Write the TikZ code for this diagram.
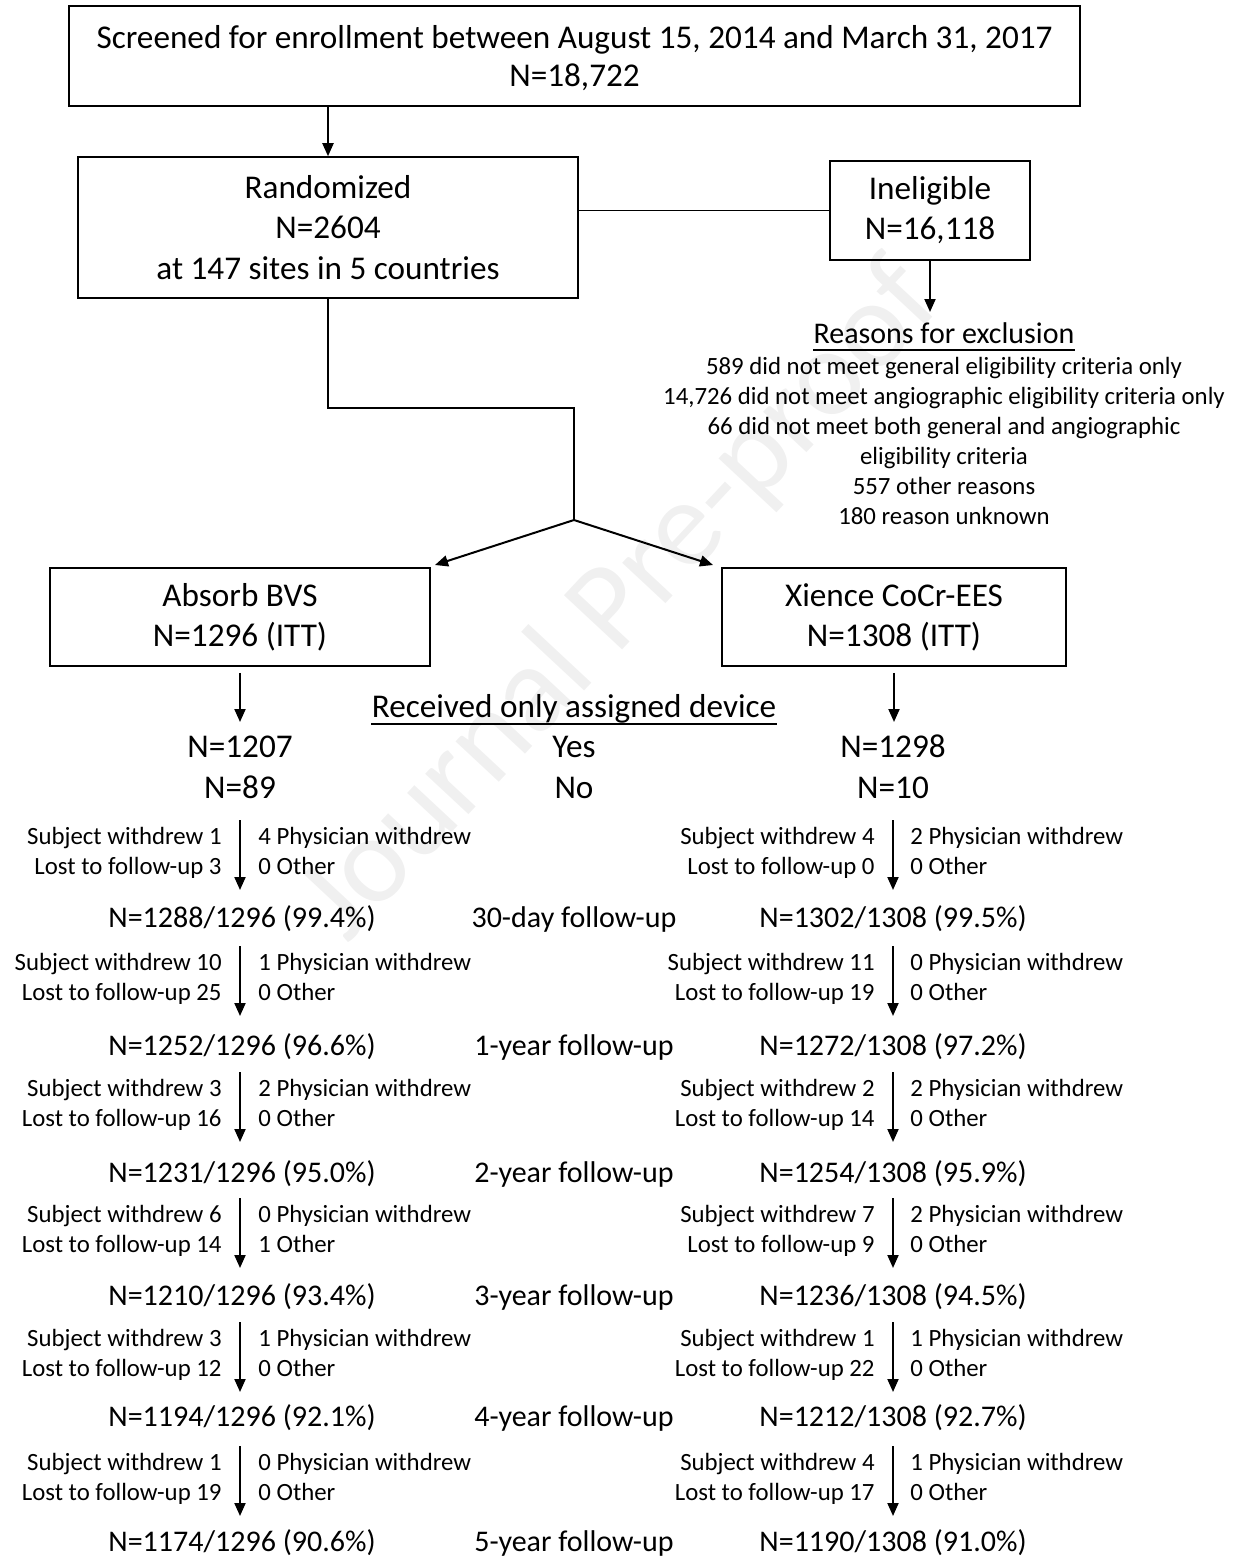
\documentclass[tikz,border=0pt]{standalone}
\usepackage{fontspec}
\setmainfont{Carlito}
\usetikzlibrary{arrows.meta}
\newcommand\fbig{\fontsize{16.6}{20}\selectfont}
\newcommand\fbigtop{\fontsize{16.6}{19}\selectfont}
\newcommand\fbigr{\fontsize{16.6}{20.25}\selectfont}
\newcommand\fres{\fontsize{15}{18}\selectfont}
\newcommand\fsmall{\fontsize{12.4}{15}\selectfont}
\begin{document}
\begin{tikzpicture}[x=0.5pt,y=-0.5pt,
  box/.style={draw,line width=0.75pt,align=center,font=\fbig,inner sep=0pt},
  arr/.style={line width=1pt,-{Triangle[length=6.5pt,width=5.5pt]}},
  conn/.style={line width=0.75pt},
  txt/.style={inner sep=0pt},
  big/.style={txt,font=\fbig,anchor=base},
  res/.style={txt,font=\fres,anchor=base},
  sml/.style={txt,font=\fsmall},
]
\useasboundingbox (0,0) rectangle (1232,1557);
% watermark
\node[txt,rotate=47,font=\fontsize{62}{62}\selectfont,text=black!6] (wm) at (622,602) {Journal Pre-proof};
% boxes
\node[box,font=\fbigtop,minimum width=505.5pt,minimum height=50pt,text depth=0pt] (top) at (574.5,56)
  {Screened for enrollment between August 15, 2014 and March 31, 2017\\N=18,722};
\node[box,font=\fbigr,minimum width=250pt,minimum height=70.5pt] (rand) at (328,227.5)
  {Randomized\\N=2604\\at 147 sites in 5 countries};
\node[box,minimum width=100pt,minimum height=49.5pt] (inel) at (930,210.5)
  {Ineligible\\N=16,118};
\node[box,minimum width=190pt,minimum height=49pt] (absorb) at (240,617)
  {Absorb BVS\\N=1296 (ITT)};
\node[box,minimum width=172pt,minimum height=49pt] (xience) at (894,617)
  {Xience CoCr-EES\\N=1308 (ITT)};
% reasons
\node[res] (rtitle) at (944,343) {Reasons for exclusion};
\draw[line width=1pt] ([yshift=-3.5pt]rtitle.base west) -- ([yshift=-3.5pt]rtitle.base east);
\node[sml,align=center,anchor=north] (reasons) at (944,357)
  {589 did not meet general eligibility criteria only\\
   14,726 did not meet angiographic eligibility criteria only\\
   66 did not meet both general and angiographic\\
   eligibility criteria\\
   557 other reasons\\
   180 reason unknown};
% connectors top part
\draw[arr] (top.south -| rand.north) -- (rand.north);
\draw[conn] (rand.east |- inel.west) -- (inel.west);
\coordinate (rtip) at (930,312);
\draw[arr] (inel.south) -- (rtip);
\coordinate (knee) at (328,408);
\coordinate (split) at (574,520);
\coordinate (aL) at (435,565);
\coordinate (aR) at (713,565);
\draw[conn,line width=0.65pt] (rand.south) -- (knee) -- (knee -| split) -- (split);
\draw[arr] (split) -- (aL);
\draw[arr] (split) -- (aR);
% received only assigned device
\coordinate (dL) at (240,722);
\coordinate (dR) at (894,722);
\draw[arr] ([yshift=-3pt]absorb.south) -- (dL);
\draw[arr] ([yshift=-3pt]xience.south) -- (dR);
\node[big] (recv) at (574,717) {Received only assigned device};
\draw[line width=1pt] ([yshift=-3.5pt]recv.base west) -- ([yshift=-3.5pt]recv.base east);
\node[big] (yes) at (574,757) {Yes};
\node[big] (no) at (574,798) {No};
\node[big] (l1207) at (240,757) {N=1207};
\node[big] (l89) at (240,798) {N=89};
\node[big] (r1298) at (893,757) {N=1298};
\node[big] (r10) at (893,798) {N=10};
% follow-up blocks
\foreach \i/\ya/\yr/\lsw/\llf/\lpw/\lot/\rsw/\rlf/\rpw/\rot/\lnum/\lpc/\md/\rnum/\rpc in {
1/836/917/1/3/4/0/4/0/2/0/1288/99.4/30-day/1302/99.5,
2/962/1045/10/25/1/0/11/19/0/0/1252/96.6/1-year/1272/97.2,
3/1088/1172/3/16/2/0/2/14/2/0/1231/95.0/2-year/1254/95.9,
4/1214/1295/6/14/0/1/7/9/2/0/1210/93.4/3-year/1236/94.5,
5/1338/1416/3/12/1/0/1/22/1/0/1194/92.1/4-year/1212/92.7,
6/1462/1541/1/19/0/0/4/17/1/0/1174/90.6/5-year/1190/91.0}{
  \coordinate (lt\i) at (240,{\ya-16});
  \coordinate (lb\i) at (240,{\ya+54});
  \coordinate (rt\i) at (893,{\ya-16});
  \coordinate (rb\i) at (893,{\ya+54});
  \draw[arr] (lt\i) -- (lb\i);
  \draw[arr] (rt\i) -- (rb\i);
  \node[sml,anchor=base east] (lsw\i) at (222,{\ya+8}) {Subject withdrew \lsw};
  \node[sml,anchor=base east] (llf\i) at (222,{\ya+38}) {Lost to follow-up \llf};
  \node[sml,anchor=base west] (lpw\i) at (258,{\ya+8}) {\lpw{} Physician withdrew};
  \node[sml,anchor=base west] (lot\i) at (258,{\ya+38}) {\lot{} Other};
  \node[sml,anchor=base east] (rsw\i) at (875,{\ya+8}) {Subject withdrew \rsw};
  \node[sml,anchor=base east] (rlf\i) at (875,{\ya+38}) {Lost to follow-up \rlf};
  \node[sml,anchor=base west] (rpw\i) at (910,{\ya+8}) {\rpw{} Physician withdrew};
  \node[sml,anchor=base west] (rot\i) at (910,{\ya+38}) {\rot{} Other};
  \node[res] (lres\i) at (242,{\yr+10}) {N=\lnum/1296 (\lpc\%)};
  \node[res] (mres\i) at (574,{\yr+10}) {\md{} follow-up};
  \node[res] (rres\i) at (893,{\yr+10}) {N=\rnum/1308 (\rpc\%)};
}
\end{tikzpicture}
\end{document}
